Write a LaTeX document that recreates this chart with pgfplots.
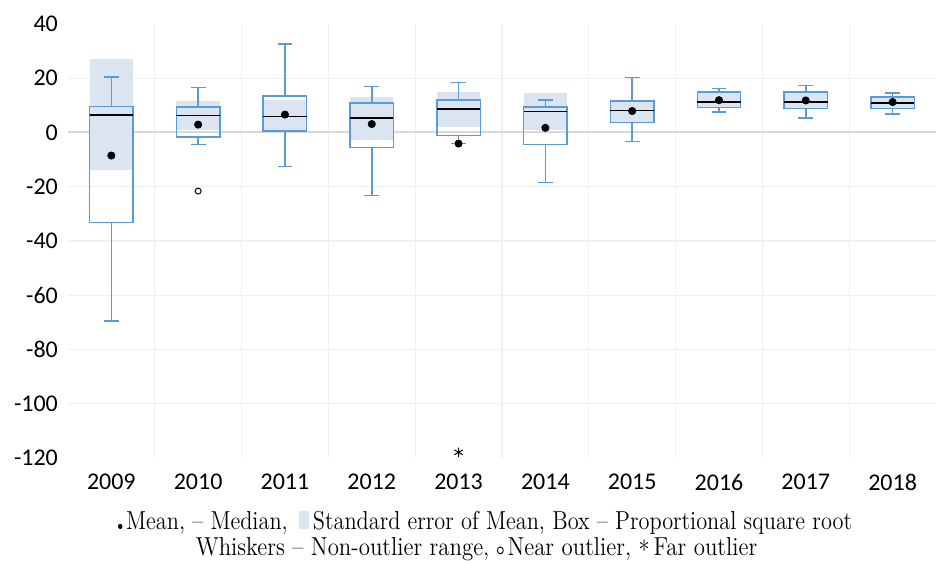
\documentclass[border=0pt]{standalone}
\usepackage{fontspec}
\newfontfamily\tickfont{Carlito}
\usepackage{graphicx}
\usepackage{pgfplots}
\pgfplotsset{compat=1.18}
\usepgfplotslibrary{statistics}
\definecolor{boxblue}{RGB}{91,155,213}
\definecolor{seblue}{RGB}{218,229,241}
\definecolor{gridc}{RGB}{240,240,240}
\definecolor{zeroc}{RGB}{217,217,217}
\begin{document}
\begin{tikzpicture}
\begin{axis}[
  at={(0,0)}, anchor=south west,
  scale only axis, width=434.5pt, height=217.25pt,
  xmin=-0.5, xmax=9.5, ymin=-120, ymax=40,
  xtick={0,1,2,3,4,5,6,7,8,9},
  xticklabels={2009,2010,2011,2012,2013,2014,2015,2016,2017,2018},
  ytick={-100,-80,-60,-40,-20,0,20},
  extra y ticks={-120,40},
  extra y tick style={grid=none},
  minor xtick={0.5,1.5,2.5,3.5,4.5,5.5,6.5,7.5,8.5},
  xminorgrids=true, ymajorgrids=true, xmajorgrids=false,
  grid style={gridc, line width=0.6pt},
  minor grid style={gridc, line width=0.6pt},
  axis line style={draw=none},
  major tick length=0pt, minor tick length=0pt,
  tick label style={font=\tickfont\fontsize{12}{14}\selectfont},
  /pgf/number format/assume math mode=true,
  xticklabel style={yshift=-4.5pt},
  yticklabel style={xshift=-1.5pt},
  boxplot/draw direction=y,
  boxplot/every median/.style={black, line width=0.7pt},
  clip=false,
]
% zero line
\addplot[zeroc, line width=1pt, forget plot] coordinates {(-0.5,0) (9.5,0)};

% standard error of mean shading
\addplot[fill=seblue, draw=none, forget plot] coordinates {(-0.25,-14.0) (0.25,-14.0) (0.25,27.0) (-0.25,27.0)} --cycle;
\addplot[fill=seblue, draw=none, forget plot] coordinates {(0.75,1.0) (1.25,1.0) (1.25,11.7) (0.75,11.7)} --cycle;
\addplot[fill=seblue, draw=none, forget plot] coordinates {(1.75,0.0) (2.25,0.0) (2.25,12.0) (1.75,12.0)} --cycle;
\addplot[fill=seblue, draw=none, forget plot] coordinates {(2.75,-2.7) (3.25,-2.7) (3.25,13.1) (2.75,13.1)} --cycle;
\addplot[fill=seblue, draw=none, forget plot] coordinates {(3.75,2.2) (4.25,2.2) (4.25,15.0) (3.75,15.0)} --cycle;
\addplot[fill=seblue, draw=none, forget plot] coordinates {(4.75,1.0) (5.25,1.0) (5.25,14.5) (4.75,14.5)} --cycle;
\addplot[fill=seblue, draw=none, forget plot] coordinates {(5.75,3.5) (6.25,3.5) (6.25,11.8) (5.75,11.8)} --cycle;
\addplot[fill=seblue, draw=none, forget plot] coordinates {(6.75,9.0) (7.25,9.0) (7.25,15.2) (6.75,15.2)} --cycle;
\addplot[fill=seblue, draw=none, forget plot] coordinates {(7.75,8.6) (8.25,8.6) (8.25,15.2) (7.75,15.2)} --cycle;
\addplot[fill=seblue, draw=none, forget plot] coordinates {(8.75,8.6) (9.25,8.6) (9.25,13.3) (8.75,13.3)} --cycle;

% box plots
\pgfplotsset{myboxes/.style={boxplot prepared={#1, box extend=0.5, whisker extend=0.17}, draw=boxblue, line width=0.75pt, mark=none, solid}}
\addplot[myboxes={draw position=0, lower whisker=-69.5, lower quartile=-33.1, median=6.4, upper quartile=9.6, upper whisker=20.4}] coordinates {};
\addplot[myboxes={draw position=1, lower whisker=-4.4, lower quartile=-1.7, median=6.3, upper quartile=9.4, upper whisker=16.6}] coordinates {};
\addplot[myboxes={draw position=2, lower whisker=-12.5, lower quartile=0.5, median=5.9, upper quartile=13.4, upper whisker=32.7}] coordinates {};
\addplot[myboxes={draw position=3, lower whisker=-23.3, lower quartile=-5.5, median=5.3, upper quartile=10.8, upper whisker=16.9}] coordinates {};
\addplot[myboxes={draw position=4, lower whisker=-4.1, lower quartile=-1.1, median=8.6, upper quartile=11.9, upper whisker=18.4}] coordinates {};
\addplot[myboxes={draw position=5, lower whisker=-18.4, lower quartile=-4.4, median=7.7, upper quartile=9.4, upper whisker=11.9}] coordinates {};
\addplot[myboxes={draw position=6, lower whisker=-3.4, lower quartile=3.7, median=8.2, upper quartile=11.6, upper whisker=20.3}] coordinates {};
\addplot[myboxes={draw position=7, lower whisker=7.6, lower quartile=9.2, median=11.3, upper quartile=14.9, upper whisker=16.3}] coordinates {};
\addplot[myboxes={draw position=8, lower whisker=5.4, lower quartile=8.8, median=11.2, upper quartile=14.9, upper whisker=17.4}] coordinates {};
\addplot[myboxes={draw position=9, lower whisker=6.9, lower quartile=8.8, median=10.8, upper quartile=13.1, upper whisker=14.6}] coordinates {};

% means
\addplot[only marks, mark=*, mark size=1.8pt, black] coordinates {
  (0,-8.5) (1,2.9) (2,6.6) (3,3.1) (4,-4.1) (5,1.7) (6,7.9) (7,11.9) (8,11.8) (9,11.2)};
% near outlier
\addplot[only marks, mark=o, mark size=1.5pt, black, line width=0.5pt, mark options={fill=white}] coordinates {(1,-21.6)};
% far outlier
\addplot[only marks, mark=asterisk, mark size=2.4pt, black, line width=0.5pt] coordinates {(4,-117.9)};
\end{axis}
\node[anchor=base, inner sep=0pt] at (208.75pt,-35.75pt)
  {\scalebox{0.86}[1]{\fontsize{13}{15}\selectfont\tikz[baseline]\fill (0,1.5pt) circle (1.3pt);\,Mean, -- Median,\enspace \tikz[baseline]\fill[seblue] (0,0) rectangle (6pt,9pt);\,Standard error of Mean, Box -- Proportional square root}};
\node[anchor=base, inner sep=0pt] at (204.5pt,-48.75pt)
  {\scalebox{0.88}[1]{\fontsize{13}{15}\selectfont Whiskers -- Non-outlier range, \tikz[baseline]\draw[line width=0.5pt] (0,2.5pt) circle (1.7pt);\,Near outlier, \raisebox{-0.35ex}{*}\,Far outlier}};
\useasboundingbox (-34pt,-53.25pt) rectangle (434.5pt,229.25pt);
\end{tikzpicture}
\end{document}
